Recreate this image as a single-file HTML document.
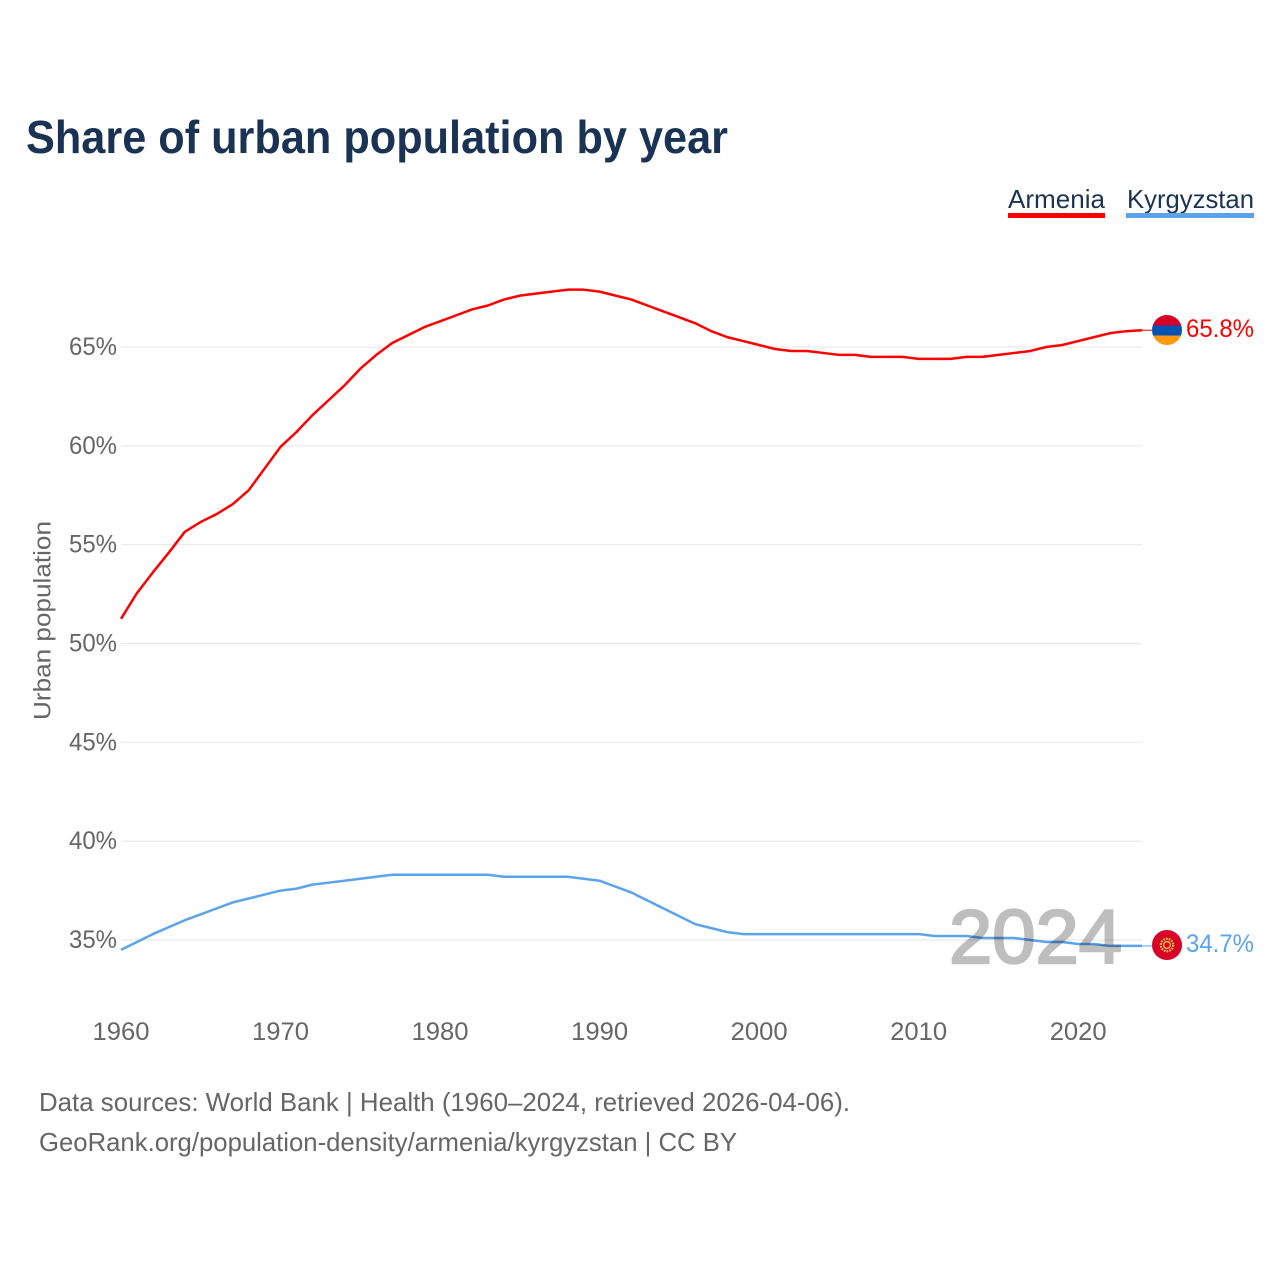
<!DOCTYPE html>
<html lang="en">
<head>
<meta charset="utf-8">
<title>Share of urban population by year</title>
<style>
html,body{margin:0;padding:0;background:#fff;width:1280px;height:1280px;overflow:hidden}
svg{display:block}
text{font-family:"Liberation Sans",sans-serif}
</style>
</head>
<body>
<svg id="chart" width="1280" height="1280" viewBox="0 0 1280 1280" xmlns="http://www.w3.org/2000/svg">
  <rect x="0" y="0" width="1280" height="1280" fill="#ffffff"/>
  <text x="26" y="153" font-size="46" font-weight="bold" fill="#1a3354" textLength="702" lengthAdjust="spacingAndGlyphs">Share of urban population by year</text>

  <g>
    <g>
      <text x="1008" y="208" font-size="26" fill="#1a3354" textLength="97" lengthAdjust="spacingAndGlyphs">Armenia</text>
      <rect x="1008" y="213" width="97" height="5" fill="#ff0000"/>
    </g>
    <g>
      <text x="1127" y="208" font-size="26" fill="#1a3354" textLength="127" lengthAdjust="spacingAndGlyphs">Kyrgyzstan</text>
      <rect x="1126" y="213" width="128" height="5" fill="#5ba3ec"/>
    </g>
  </g>

  <text transform="translate(50.5,620.5) rotate(-90)" text-anchor="middle" font-size="24" fill="#666666" textLength="199" lengthAdjust="spacingAndGlyphs">Urban population</text>

  <g id="grid"></g>
  <g id="yticks"></g>
  <g id="xticks"></g>
  <g id="series"></g>

  <text x="949" y="963" font-size="76" fill="#000000" stroke="#000000" stroke-width="2.4" opacity="0.25" textLength="173" lengthAdjust="spacingAndGlyphs">2024</text>

  <g>
    <clipPath id="armClip"><circle cx="1167" cy="330" r="15"/></clipPath>
    <g clip-path="url(#armClip)">
      <rect x="1152" y="315" width="30" height="10.5" fill="#d80027"/>
      <rect x="1152" y="325.5" width="30" height="10" fill="#0052b4"/>
      <rect x="1152" y="335.5" width="30" height="10" fill="#ff9811"/>
    </g>
  </g>
  <g>
    <circle cx="1167" cy="945" r="15" fill="#d80027"/>
    <circle cx="1167" cy="945" r="6.2" fill="none" stroke="#ffda44" stroke-width="2.2" stroke-dasharray="1.6 1.2"/>
    <circle cx="1167" cy="945" r="3.4" fill="none" stroke="#ffda44" stroke-width="1.2"/>
  </g>

  <text id="label-arm" x="1186" y="337" font-size="25" fill="#ff0000" textLength="68" lengthAdjust="spacingAndGlyphs">65.8%</text>
  <text id="label-kgz" x="1186" y="952" font-size="25" fill="#5ba3ec" textLength="68" lengthAdjust="spacingAndGlyphs">34.7%</text>

  <text x="39" y="1111" font-size="26" fill="#666666" textLength="811" lengthAdjust="spacingAndGlyphs">Data sources: World Bank | Health (1960–2024, retrieved 2026-04-06).</text>
  <text x="39" y="1151" font-size="26" fill="#666666" textLength="698" lengthAdjust="spacingAndGlyphs">GeoRank.org/population-density/armenia/kyrgyzstan | CC BY</text>
</svg>
<script>
const years = [1960,1961,1962,1963,1964,1965,1966,1967,1968,1969,1970,1971,1972,1973,1974,1975,1976,1977,1978,1979,1980,1981,1982,1983,1984,1985,1986,1987,1988,1989,1990,1991,1992,1993,1994,1995,1996,1997,1998,1999,2000,2001,2002,2003,2004,2005,2006,2007,2008,2009,2010,2011,2012,2013,2014,2015,2016,2017,2018,2019,2020,2021,2022,2023,2024];
const armenia = [51.25,52.55,53.6,54.6,55.65,56.15,56.55,57.05,57.75,58.85,59.95,60.7,61.55,62.3,63.05,63.9,64.6,65.2,65.6,66.0,66.3,66.6,66.9,67.1,67.4,67.6,67.7,67.8,67.9,67.9,67.8,67.6,67.4,67.1,66.8,66.5,66.2,65.8,65.5,65.3,65.1,64.9,64.8,64.8,64.7,64.6,64.6,64.5,64.5,64.5,64.4,64.4,64.4,64.5,64.5,64.6,64.7,64.8,65.0,65.1,65.3,65.5,65.7,65.8,65.85];
const kyrgyzstan = [34.5,34.9,35.3,35.65,36.0,36.3,36.6,36.9,37.1,37.3,37.5,37.6,37.8,37.9,38.0,38.1,38.2,38.3,38.3,38.3,38.3,38.3,38.3,38.3,38.2,38.2,38.2,38.2,38.2,38.1,38.0,37.7,37.4,37.0,36.6,36.2,35.8,35.6,35.4,35.3,35.3,35.3,35.3,35.3,35.3,35.3,35.3,35.3,35.3,35.3,35.3,35.2,35.2,35.2,35.1,35.1,35.1,35.0,34.9,34.9,34.8,34.8,34.7,34.7,34.7];
const yTickValues = [35,40,45,50,55,60,65];
const xTickValues = [1960,1970,1980,1990,2000,2010,2020];

const NS = 'http://www.w3.org/2000/svg';
const xScale = function (year) { return 121 + (year - 1960) * (1142 - 121) / 64; };
const yScale = function (pct) { return 940 - (pct - 35) * (940 - 347) / 30; };

const grid = document.getElementById('grid');
const yGroup = document.getElementById('yticks');
const xGroup = document.getElementById('xticks');
const seriesGroup = document.getElementById('series');

yTickValues.forEach(function (v) {
  const line = document.createElementNS(NS, 'line');
  
  
  line.setAttribute('x1', xScale(1960));
  line.setAttribute('x2', xScale(2024));
  line.setAttribute('y1', yScale(v));
  line.setAttribute('y2', yScale(v));
  line.setAttribute('stroke', '#e9e9e9');
  line.setAttribute('stroke-width', '1.2');
  grid.appendChild(line);

  const t = document.createElementNS(NS, 'text');
  
  
  t.setAttribute('x', 69);
  t.setAttribute('y', yScale(v) + 8);
  t.setAttribute('font-size', '25');
  t.setAttribute('fill', '#666666');
  t.setAttribute('textLength', '48');
  t.setAttribute('lengthAdjust', 'spacingAndGlyphs');
  t.textContent = v + '%';
  yGroup.appendChild(t);
});

xTickValues.forEach(function (v) {
  const t = document.createElementNS(NS, 'text');
  
  
  t.setAttribute('x', xScale(v) - 28.5);
  t.setAttribute('y', 1040);
  t.setAttribute('font-size', '25');
  t.setAttribute('fill', '#666666');
  t.setAttribute('textLength', '57');
  t.setAttribute('lengthAdjust', 'spacingAndGlyphs');
  t.textContent = String(v);
  xGroup.appendChild(t);
});

function drawSeries(values, color, name) {
  const p = document.createElementNS(NS, 'polyline');
  
  
  p.setAttribute('fill', 'none');
  p.setAttribute('stroke', color);
  p.setAttribute('stroke-width', '2.5');
  p.setAttribute('stroke-linejoin', 'round');
  p.setAttribute('points', values.map(function (v, i) {
    return xScale(years[i]).toFixed(2) + ',' + yScale(v).toFixed(2);
  }).join(' '));
  seriesGroup.appendChild(p);

  const last = values[values.length - 1];
  const lead = document.createElementNS(NS, 'line');
  
  
  lead.setAttribute('x1', xScale(2024));
  lead.setAttribute('x2', xScale(2024) + 10);
  lead.setAttribute('y1', yScale(last));
  lead.setAttribute('y2', yScale(last));
  lead.setAttribute('stroke', color);
  lead.setAttribute('stroke-width', '1');
  seriesGroup.appendChild(lead);
}
drawSeries(armenia, '#ff0000', 'line-armenia');
drawSeries(kyrgyzstan, '#5ba3ec', 'line-kyrgyzstan');
</script>
</body>
</html>
